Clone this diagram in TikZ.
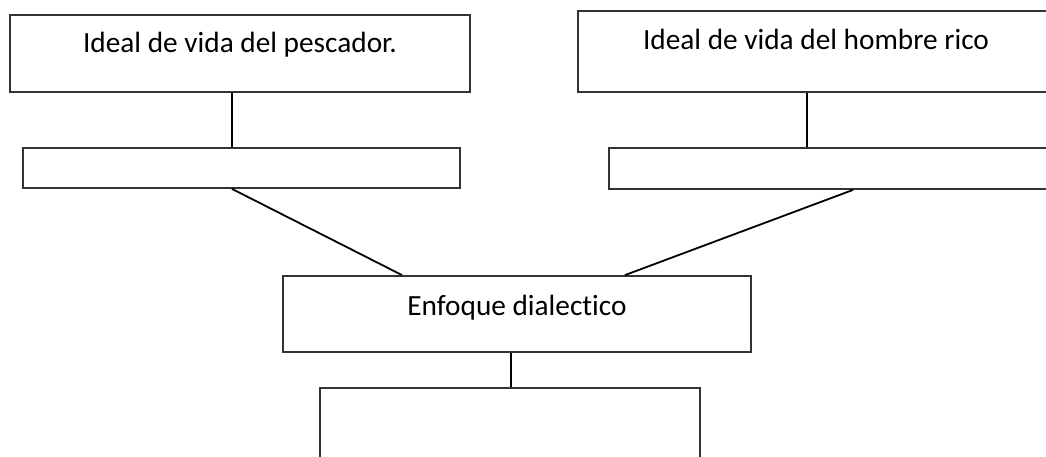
\documentclass[tikz,border=0pt]{standalone}
\usepackage{fontspec}
\setmainfont[Ligatures=NoCommon]{Carlito}

\begin{document}
\begin{tikzpicture}[x=1pt,y=-1pt,
						box/.style={draw=black!80,line width=1.8pt,inner sep=0pt,font=\fontsize{29.3}{33}\selectfont},
						blank/.style={box,minimum height=40pt},
						link/.style={black,line width=1.8pt}]
		\useasboundingbox (0,0) rectangle (1046,457);
		\clip (0,0) rectangle (1046,457);

		\node[box,minimum width=460pt,text height=38pt,text depth=39pt,anchor=base]	(pescador)	at (240,53)		{Ideal de vida del pescador.};
		\node[box,minimum width=476pt,text height=39pt,text depth=42pt,anchor=base]	(rico)		at (816,50)		{Ideal de vida del hombre rico};
		\node[blank,minimum width=437pt]											(vidaL)		at (241.5,168)	{};
		\node[blank,minimum width=445pt,minimum height=41pt]						(vidaR)		at (831.5,168.5)	{};
		\node[box,minimum width=468pt,text height=39pt,text depth=37pt,anchor=base]	(enfoque)	at (517,315)	{Enfoque dialectico};
		\node[box,minimum width=380pt,minimum height=140pt,anchor=north]			(abajo)		at (510,387)	{};

		\draw[link] ([xshift=-8pt]pescador.south) -- ([xshift=-8pt]pescador.south |- vidaL.north);
		\draw[link] ([xshift=-9pt]rico.south) -- ([xshift=-9pt]rico.south |- vidaR.north);
		\draw[link] ([xshift=-9.5pt]vidaL.south) -- ([xshift=-115pt]enfoque.north);
		\draw[link] ([xshift=21.5pt]vidaR.south) -- ([xshift=108pt]enfoque.north);
		\draw[link] ([xshift=-6pt]enfoque.south) -- ([xshift=-6pt]enfoque.south |- abajo.north);
	\end{tikzpicture}
\end{document}
